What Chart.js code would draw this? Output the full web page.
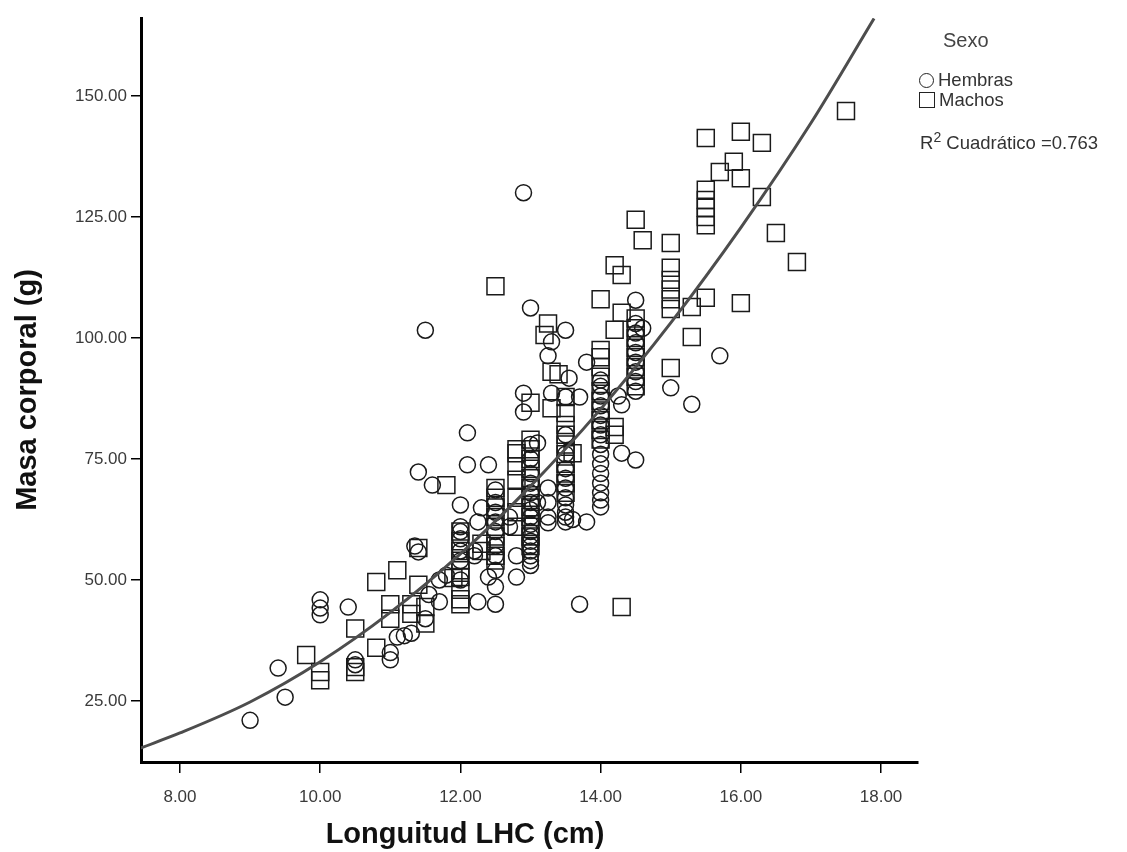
<!DOCTYPE html>
<html lang="es">
<head>
<meta charset="UTF-8">
<title>Masa corporal vs Longuitud LHC</title>
<script src="https://cdn.jsdelivr.net/npm/chart.js"></script>
<style>
    body { margin: 0; background: #fff; }
    .wrap { position: relative; width: 1127px; height: 852px; font-family: "Liberation Sans", Arial, sans-serif; color: #333; }
    .wrap canvas { position: absolute; left: 0; top: 0; }
    .x-title { position: absolute; left: 215px; width: 500px; top: 816px; text-align: center; font-weight: bold; font-size: 29px; color: #111; line-height: 34px; }
    .leg { position: absolute; font-size: 18.5px; line-height: 20px; white-space: nowrap; }
    .leg-title { font-size: 20px; color: #444; }
    .ico-c { display: inline-block; width: 13px; height: 13px; border: 1.5px solid #222; border-radius: 50%; vertical-align: -2px; margin-right: 4px; }
    .ico-s { display: inline-block; width: 14px; height: 14px; border: 1.5px solid #222; vertical-align: -2px; margin-right: 4px; }
    sup { font-size: 14px; line-height: 0; }
</style>
</head>
<body>
<div class="wrap">
    <canvas id="chart" width="1127" height="852"></canvas>
    <div class="x-title">Longuitud LHC (cm)</div>
    <div class="leg leg-title" style="left:943px; top:30px;">Sexo</div>
    <div class="leg" style="left:919px; top:70px;"><span class="ico-c"></span>Hembras</div>
    <div class="leg" style="left:919px; top:90px;"><span class="ico-s"></span>Machos</div>
    <div class="leg" style="left:920px; top:133px;">R<sup>2</sup> Cuadrático =0.763</div>
</div>

<script>
    // ticks de los ejes
    const xTicks = [8, 10, 12, 14, 16, 18];
    const yTicks = [25, 50, 75, 100, 125, 150];

    // hembras (círculos): longitud LHC (cm) y masa (g)
    const hembrasX = [
        9.0, 9.4, 9.5, 10.0, 10.0, 10.0, 10.4, 10.5, 10.5,
        11.0, 11.0, 11.1, 11.2, 11.3, 11.35, 11.4, 11.4, 11.5,
        11.6, 11.5, 11.55, 11.7, 11.7, 11.8,
        12.0, 12.0, 12.0, 12.0, 12.0, 12.0, 12.0, 12.1, 12.1,
        12.2, 12.2, 12.3, 12.25, 12.25, 12.4, 12.4, 12.5, 12.5,
        12.5, 12.5, 12.5, 12.5, 12.5, 12.5, 12.5, 12.5,
        12.7, 12.7, 12.8, 12.8, 12.9, 12.9, 12.9, 13.0,
        13.0, 13.0, 13.0, 13.0, 13.0, 13.0, 13.0, 13.0, 13.0, 13.0,
        13.0, 13.0, 13.0, 13.0, 13.0, 13.0, 13.0,
        13.1, 13.1, 13.25, 13.25, 13.25, 13.25,
        13.3, 13.3, 13.25,
        13.5, 13.55, 13.5, 13.7, 13.8, 13.5, 13.5, 13.5, 13.5, 13.5, 13.5, 13.5, 13.5, 13.5, 13.5, 13.6,
        13.7, 13.8,
        14.0, 14.0, 14.0, 14.0, 14.0, 14.0, 14.0, 14.0, 14.0, 14.0, 14.0, 14.0, 14.0, 14.0, 14.0,
        14.25, 14.3, 14.3, 14.5,
        14.5, 14.5, 14.5, 14.5, 14.5, 14.5, 14.5, 14.5, 14.5, 14.6,
        15.0, 15.3, 15.7
    ];
    const hembrasY = [
        21, 31.8, 25.8, 45.9, 44.2, 42.8, 44.4, 33.5, 32.5,
        35, 33.5, 38.2, 38.5, 39, 57, 55.8, 72.3, 101.6,
        69.6, 42, 47, 50, 45.5, 51,
        65.5, 61, 60, 58.5, 56, 54, 50, 80.4, 73.8,
        56, 55, 64.9, 62, 45.5, 73.8, 50.6, 48.6, 45,
        68.6, 66, 64, 62, 60, 57, 55, 52,
        61, 63, 50.6, 55, 130, 88.6, 84.7, 106.2,
        78, 75, 72, 70, 68, 66, 64.5, 63, 61.5, 60,
        59, 58, 57, 56, 55, 54, 53,
        78.3, 66, 69, 66, 63, 61.8,
        99.2, 88.6, 96.3,
        101.6, 91.7, 87.8, 87.8, 95, 80, 76, 73, 71, 69, 67, 65.5, 64, 63, 62, 62.5,
        45, 62,
        91.3, 90, 88, 86, 84, 82, 80, 78, 76, 74, 72, 70, 68, 66.5, 65.1,
        88, 86.2, 76.2, 74.8,
        107.8, 103, 101, 99, 97, 95, 93, 91, 89, 102,
        89.7, 86.3, 96.3
    ];

    // machos (cuadrados)
    const machosX = [
        9.8, 10.0, 10.0, 10.5, 10.5, 10.5, 10.8, 10.8,
        11.0, 11.0, 11.1, 11.3, 11.3, 11.4, 11.4, 11.5, 11.5,
        11.8, 11.9,
        12.0, 12.0, 12.0, 12.0, 12.0, 12.0, 12.0, 12.0, 12.0,
        12.3, 12.3,
        12.5, 12.5, 12.5, 12.5, 12.5, 12.5, 12.5, 12.5, 12.5, 12.5,
        12.8, 12.8, 12.8, 12.8, 12.8, 12.8, 12.8,
        13.0, 13.0, 13.0, 13.0, 13.0, 13.0, 13.0, 13.0, 13.0, 13.0, 13.0, 13.0, 13.0,
        13.2, 13.25, 13.3, 13.3, 13.4,
        13.5, 13.5, 13.5, 13.5, 13.5, 13.5, 13.5, 13.5, 13.5, 13.5,
        13.6,
        14.0, 14.0, 14.0, 14.0, 14.0, 14.0, 14.0, 14.0, 14.0, 14.0, 14.0,
        14.2, 14.3, 14.3, 14.2, 14.2, 14.2,
        14.3,
        14.5, 14.6, 14.5, 14.5, 14.5, 14.5, 14.5, 14.5, 14.5, 14.5,
        15.0, 15.0, 15.0, 15.0, 15.0, 15.0, 15.0,
        15.3, 15.3,
        15.5, 15.5, 15.5, 15.5, 15.5, 15.5, 15.5,
        15.7, 15.9, 16.0, 16.0, 16.0, 16.3, 16.3, 16.5, 16.8, 17.5
    ];
    const machosY = [
        34.5, 31, 29.3, 40, 32, 31, 36, 49.6,
        45, 42, 52, 45, 43, 49, 56.6, 44.4, 41,
        69.6, 50.4,
        60, 58, 56, 54, 52, 50.6, 48, 46, 45,
        56, 57.5,
        110.7, 69, 67, 65, 63, 61, 59, 57, 55, 54,
        77, 76.2, 73.5, 70.7, 67, 64, 61,
        86.6, 79, 77, 75, 73, 71, 69, 67, 65, 63, 61, 59, 57,
        100.6, 103, 93, 85.5, 92.5,
        84.5, 82, 80, 78, 76, 74, 72, 70, 68, 87.8,
        76.2,
        108, 97.5, 96, 94, 92, 89, 87, 85, 83, 81, 79,
        115, 113, 105.2, 101.7, 81.6, 80,
        44.4,
        124.4, 120.2, 104, 102, 100, 98, 96, 94, 92, 90,
        119.6, 114.5, 112, 110, 108, 106, 93.8,
        106.4, 100.2,
        141.3, 130.6, 128.5, 126.9, 125, 123.3, 108.3,
        134.3, 136.4, 142.6, 133, 107.2, 140.3, 129.1, 121.7, 115.7, 146.9
    ];

    // curva cuadrática ajustada
    const curvaX = [7.44, 8, 9, 10, 11, 12, 13, 14, 15, 16, 17, 17.9];
    const curvaY = [15.3, 18.4, 24.8, 33.1, 43.3, 55.4, 69.4, 85.3, 103.1, 122.8, 144.4, 166];

    const toPoints = (xs, ys) => xs.map((x, i) => ({ x: x, y: ys[i] }));

    const tickFont = { family: '"Liberation Sans", Arial, sans-serif', size: 17 };

    new Chart(document.getElementById('chart'), {
        type: 'scatter',
        data: {
            datasets: [
                {
                    label: 'R2 Cuadrático',
                    data: toPoints(curvaX, curvaY),
                    showLine: true,
                    cubicInterpolationMode: 'monotone',
                    borderColor: '#4d4d4d',
                    borderWidth: 3,
                    pointRadius: 0,
                    fill: false,
                    order: 0
                },
                {
                    label: 'Hembras',
                    data: toPoints(hembrasX, hembrasY),
                    pointStyle: 'circle',
                    pointRadius: 8,
                    borderColor: '#1a1a1a',
                    backgroundColor: 'rgba(0,0,0,0)',
                    borderWidth: 1.5,
                    order: 1
                },
                {
                    label: 'Machos',
                    data: toPoints(machosX, machosY),
                    pointStyle: 'rect',
                    pointRadius: 12,
                    borderColor: '#1a1a1a',
                    backgroundColor: 'rgba(0,0,0,0)',
                    borderWidth: 1.5,
                    order: 1
                }
            ]
        },
        options: {
            responsive: false,
            animation: false,
            layout: { padding: { top: 18, right: 209, left: 0, bottom: 0 } },
            plugins: {
                legend: { display: false },
                tooltip: { enabled: false }
            },
            scales: {
                x: {
                    type: 'linear',
                    min: 7.444,
                    max: 18.527,
                    border: { color: '#000', width: 3 },
                    grid: { drawOnChartArea: false, drawTicks: true, tickLength: 11, color: '#000', lineWidth: 1.5 },
                    afterBuildTicks: scale => { scale.ticks = xTicks.map(v => ({ value: v })); },
                    afterFit: scale => { scale.height = 90; },
                    ticks: {
                        font: tickFont,
                        color: '#3a3a3a',
                        padding: 14,
                        maxRotation: 0,
                        callback: v => Number(v).toFixed(2)
                    }
                },
                y: {
                    type: 'linear',
                    min: 12.4,
                    max: 166.1,
                    border: { color: '#000', width: 3 },
                    grid: { drawOnChartArea: false, drawTicks: true, tickLength: 10, color: '#000', lineWidth: 1.5 },
                    afterBuildTicks: scale => { scale.ticks = yTicks.map(v => ({ value: v })); },
                    afterFit: scale => { scale.width = 141; },
                    ticks: {
                        font: tickFont,
                        color: '#3a3a3a',
                        padding: 4,
                        callback: v => Number(v).toFixed(2)
                    },
                    title: {
                        display: true,
                        text: 'Masa corporal (g)',
                        font: { family: '"Liberation Sans", Arial, sans-serif', size: 29, weight: 'bold' },
                        color: '#111',
                        padding: { top: 11, bottom: 0 }
                    }
                }
            }
        }
    });
</script>
</body>
</html>
